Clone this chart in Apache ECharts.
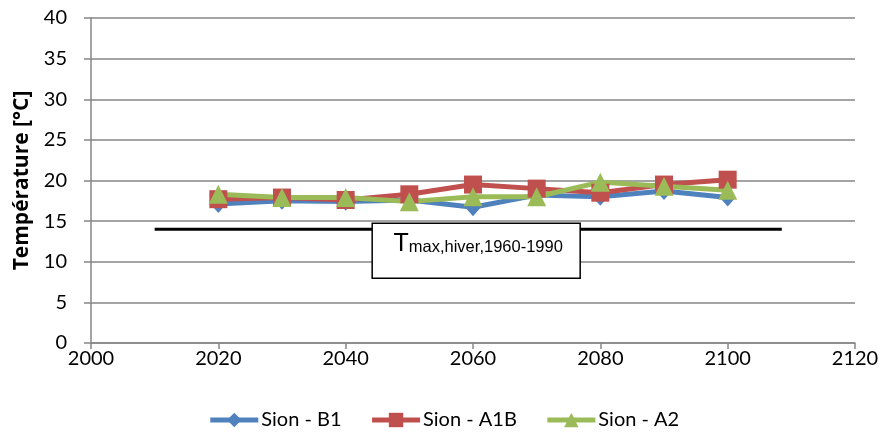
<!DOCTYPE html>
<html><head><meta charset="utf-8">
<script src="https://cdn.jsdelivr.net/npm/echarts@6/dist/echarts.min.js"></script>
<style>html,body{margin:0;padding:0;background:#fff}#c{width:887px;height:436px}</style>
</head><body><div id="c"></div>
<script>
const years = [2020, 2030, 2040, 2050, 2060, 2070, 2080, 2090, 2100];
const sionB1  = [17.1, 17.5, 17.4, 17.6, 16.7, 18.2, 18.0, 18.7, 17.9];
const sionA1B = [17.7, 17.9, 17.6, 18.3, 19.5, 19.0, 18.5, 19.5, 20.1];
const sionA2  = [18.3, 17.9, 17.9, 17.4, 18.0, 18.0, 19.8, 19.3, 18.8];
const refLineX = [2010, 2108.5];
const refLineY = 14;
const refLabelX = 2060.5;

const chart = echarts.init(document.getElementById('c'));
const font = 'Lato, "Open Sans", sans-serif';
const pair = (xs, ys) => xs.map((x, i) => [x, ys[i]]);
function mk(name, data, color, symbol, size) {
  return { name, type: 'line', data: pair(years, data), symbol, symbolSize: size,
    lineStyle: { color, width: 5 }, itemStyle: { color }, z: 3, animation: false };
}
chart.setOption({
  animation: false,
  grid: { left: 91, right: 32, top: 18, bottom: 93 },
  xAxis: { type: 'value', min: 2000, max: 2120, interval: 20,
    axisLine: { lineStyle: { color: '#868686', width: 1.5 } },
    axisTick: { show: true, length: 6, lineStyle: { color: '#868686', width: 1.5 } },
    splitLine: { show: false },
    axisLabel: { color: '#000', fontSize: 20, fontFamily: font, margin: 6, formatter: v => String(v) } },
  yAxis: { type: 'value', min: 0, max: 40, interval: 5,
    name: 'Température [°C]', nameLocation: 'middle', nameGap: 57,
    nameTextStyle: { color: '#000', fontSize: 21, fontWeight: 'bold', fontFamily: '"Open Sans", sans-serif' },
    axisLine: { show: true, lineStyle: { color: '#868686', width: 1.5 } },
    axisTick: { show: true, length: 7, lineStyle: { color: '#868686', width: 1.5 } },
    splitLine: { lineStyle: { color: '#868686', width: 1.5 } },
    axisLabel: { color: '#000', fontSize: 20, fontFamily: font, margin: 24 } },
  legend: { bottom: 1, left: 'center', itemWidth: 48, itemHeight: 18, itemGap: 28,
    data: ['Sion - B1', 'Sion - A1B', 'Sion - A2'],
    lineStyle: { width: 5 },
    textStyle: { color: '#000', fontSize: 20, fontFamily: font, padding: [0,0,0,-2] } },
  series: [
    { name: 'ref', type: 'line', data: [[refLineX[0], refLineY], [refLineX[1], refLineY]],
      symbol: 'none', lineStyle: { color: '#000', width: 3 }, z: 2, silent: true },
    mk('Sion - B1', sionB1, '#4F81BD', 'diamond', [16, 18]),
    mk('Sion - A1B', sionA1B, '#C0504D', 'rect', 18),
    mk('Sion - A2', sionA2, '#9BBB59', 'triangle', 19)
  ]
});
const p = chart.convertToPixel({ gridIndex: 0 }, [refLabelX, refLineY]);
const lab = 'Liberation Sans, Arial, sans-serif';
chart.setOption({ graphic: [
  { type: 'rect', z: 10, shape: { x: p[0] - 104, y: p[1] - 6, width: 208, height: 55 },
    style: { fill: '#fff', stroke: '#000', lineWidth: 1.5 } },
  { type: 'text', z: 11, x: p[0] + 2, y: p[1] + 27,
    style: { text: '{b|T}{s|max,hiver,1960-1990}', align: 'center', verticalAlign: 'bottom',
      rich: {
        b: { fontSize: 25, fontFamily: lab, fill: '#000', verticalAlign: 'bottom', lineHeight: 26 },
        s: { fontSize: 16.5, fontFamily: lab, fill: '#000', verticalAlign: 'bottom', lineHeight: 21 } } } }
] });
</script></body></html>
